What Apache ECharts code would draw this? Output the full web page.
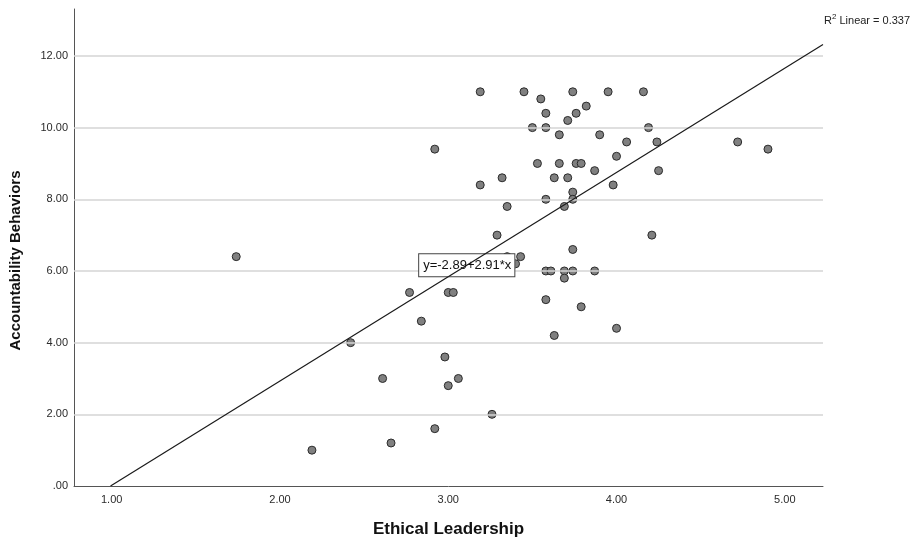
<!DOCTYPE html>
<html>
<head>
<meta charset="utf-8">
<script src="https://cdn.jsdelivr.net/npm/echarts@6/dist/echarts.min.js"></script>
<style>
html,body{margin:0;padding:0;background:#fff;}
#chart{width:919px;height:543px;}
</style>
</head>
<body>
<div id="chart"></div>
<script>
// Ethical Leadership (x) values
const ethicalLeadership = [
  1.74, 2.19, 2.42, 2.61, 2.66, 2.77, 2.84, 2.92, 2.92, 2.98,
  3.00, 3.00, 3.03, 3.06, 3.19, 3.19, 3.26, 3.29, 3.32, 3.35,
  3.35, 3.40, 3.43, 3.45, 3.50, 3.53, 3.55, 3.58, 3.58, 3.58,
  3.58, 3.58, 3.61, 3.63, 3.63, 3.66, 3.66, 3.69, 3.69, 3.69,
  3.71, 3.71, 3.74, 3.74, 3.74, 3.74, 3.74, 3.76, 3.76, 3.79,
  3.79, 3.82, 3.87, 3.87, 3.90, 3.95, 3.98, 4.00, 4.00, 4.06,
  4.16, 4.19, 4.21, 4.24, 4.25, 4.72, 4.90
];
// Accountability Behaviors (y) values
const accountability = [
  6.4, 1.0, 4.0, 3.0, 1.2, 5.4, 4.6, 1.6, 9.4, 3.6,
  2.8, 5.4, 5.4, 3.0, 11.0, 8.4, 2.0, 7.0, 8.6, 7.8,
  6.4, 6.2, 6.4, 11.0, 10.0, 9.0, 10.8, 10.4, 10.0, 8.0,
  6.0, 5.2, 6.0, 8.6, 4.2, 9.8, 9.0, 7.8, 6.0, 5.8,
  10.2, 8.6, 11.0, 8.2, 8.0, 6.6, 6.0, 10.4, 9.0, 9.0,
  5.0, 10.6, 8.8, 6.0, 9.8, 11.0, 8.4, 9.2, 4.4, 9.6,
  11.0, 10.0, 7.0, 9.6, 8.8, 9.6, 9.4
];
// Axis settings
const xMin = 0.776, xMax = 5.227;
const yMin = 0, yMax = 13.31;
const yGridValues = [2, 4, 6, 8, 10, 12];
// Linear fit
const fitIntercept = -2.89, fitSlope = 2.91;
const fitLabelX = 3.11;
const fitLabelText = 'y=-2.89+2.91*x';
const rSquaredText = '0.337';

const points = ethicalLeadership.map((x, i) => [x, accountability[i]]);
const fit = x => fitIntercept + fitSlope * x;
const fitStartX = Math.max(xMin, -fitIntercept / fitSlope);
const fitLine = [[fitStartX, fit(fitStartX)], [xMax, fit(xMax)]];

const FONT = "'Liberation Sans', Arial, sans-serif";
const chart = echarts.init(document.getElementById('chart'), null, {renderer: 'canvas'});
chart.setOption({
  animation: false,
  backgroundColor: '#ffffff',
  grid: {left: 74, right: 96, top: 9, bottom: 56, containLabel: false},
  title: {
    left: 824, top: 13, padding: 0,
    text: '{a|R}{s|2}{a| Linear = ' + rSquaredText + '}',
    textStyle: {
      fontWeight: 'normal',
      rich: {
        a: {fontFamily: FONT, fontSize: 11, fontWeight: 'normal', color: '#222', verticalAlign: 'bottom'},
        s: {fontFamily: FONT, fontSize: 8, fontWeight: 'normal', color: '#222', verticalAlign: 'top', padding: [0, 0, 5, 0]}
      }
    }
  },
  xAxis: {
    type: 'value', min: xMin, max: xMax, splitNumber: 5,
    name: 'Ethical Leadership', nameLocation: 'middle', nameGap: 35,
    nameTextStyle: {fontFamily: FONT, fontSize: 17, fontWeight: 'bold', color: '#111'},
    axisLine: {show: true, lineStyle: {color: '#555', width: 1}},
    axisTick: {show: false},
    splitLine: {show: false},
    axisLabel: {
      margin: 8, fontFamily: FONT, fontSize: 11, color: '#2a2a2a',
      formatter: v => Math.abs(v - Math.round(v)) < 1e-6 ? v.toFixed(2) : ''
    }
  },
  yAxis: {
    type: 'value', min: yMin, max: yMax, splitNumber: 7,
    name: 'Accountability Behaviors', nameLocation: 'middle', nameGap: 51,
    nameTextStyle: {fontFamily: FONT, fontSize: 15, fontWeight: 'bold', color: '#111', padding: [0, 26, 0, 0]},
    axisLine: {show: true, lineStyle: {color: '#555', width: 1}},
    axisTick: {show: false},
    splitLine: {show: false},
    axisLabel: {
      margin: 6, fontFamily: FONT, fontSize: 11, color: '#2a2a2a',
      formatter: v => {
        if (Math.abs(v / 2 - Math.round(v / 2)) > 1e-6) return '';
        return v === 0 ? '.00' : v.toFixed(2);
      }
    }
  },
  series: [
    {
      type: 'line', data: [], silent: true,
      markLine: {
        silent: true, symbol: 'none', animation: false,
        label: {show: false},
        lineStyle: {color: '#d4d4d4', width: 1.5, type: 'solid'},
        data: yGridValues.map(v => ({yAxis: v}))
      }
    },
    {
      type: 'scatter', data: points, symbol: 'circle', symbolSize: 8,
      itemStyle: {color: '#808080', borderColor: '#2b2b2b', borderWidth: 1, opacity: 1},
      z: 3
    },
    {
      type: 'line', data: fitLine, showSymbol: false, symbol: 'none',
      lineStyle: {color: '#1a1a1a', width: 1.2}, silent: true,
      markPoint: {
        symbol: 'circle', symbolSize: 0, silent: true,
        data: [{coord: [fitLabelX, fit(fitLabelX)]}],
        label: {
          show: true, position: 'inside', formatter: fitLabelText,
          fontFamily: FONT, fontSize: 13, color: '#111',
          backgroundColor: '#fff', borderColor: '#444', borderWidth: 1,
          padding: [5, 3, 4, 4]
        }
      },
      z: 5
    }
  ]
});
</script>
</body>
</html>
